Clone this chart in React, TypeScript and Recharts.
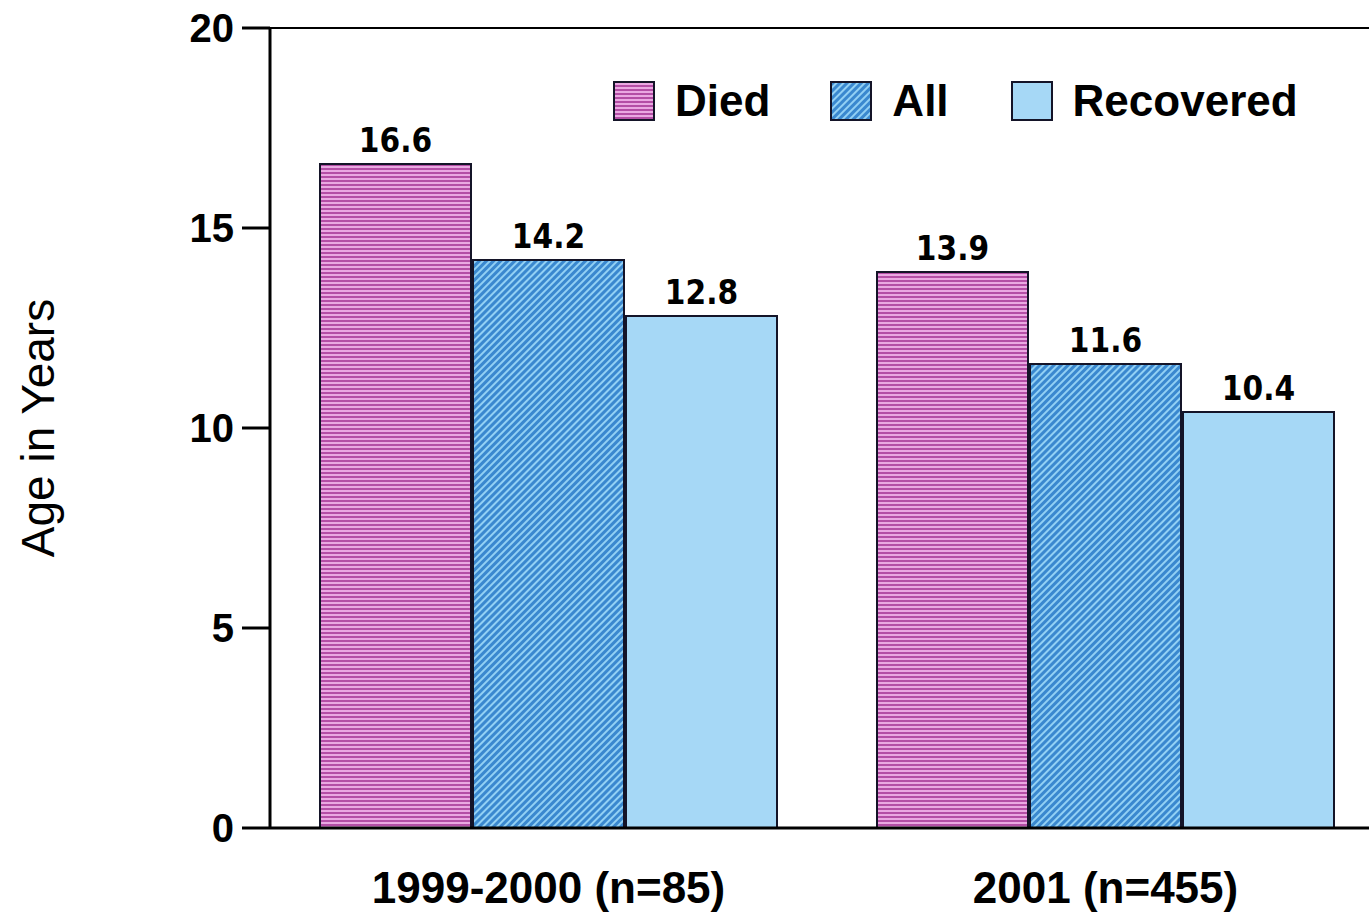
import React from 'react';
import { BarChart, Bar, XAxis, YAxis, Legend, LabelList, Label, ReferenceLine } from 'recharts';

const categories = ['1999-2000 (n=85)', '2001 (n=455)'];
const died = [16.6, 13.9];
const all = [14.2, 11.6];
const recovered = [12.8, 10.4];
const yTicks = [0, 5, 10, 15, 20];

const series = [
  { key: 'died', name: 'Died', fill: 'url(#diedPattern)' },
  { key: 'all', name: 'All', fill: 'url(#allPattern)' },
  { key: 'recovered', name: 'Recovered', fill: '#a6d8f6' },
];

const data = categories.map((c, i) => ({
  name: c,
  died: died[i],
  all: all[i],
  recovered: recovered[i],
}));

const FONT = '"Liberation Sans", Arial, sans-serif';
const OUTLINE = '#141428';

function LegendBox() {
  return (
    <div style={{ display: 'flex', alignItems: 'center', fontFamily: FONT, fontSize: 44, fontWeight: 'bold', color: '#000' }}>
      {series.map((s, i) => (
        <div key={s.key} style={{ display: 'flex', alignItems: 'center', marginRight: i === 0 ? 60 : i === 1 ? 62 : 0 }}>
          <svg width={42} height={40} style={{ marginRight: 20 }}>
            <rect x={1} y={1} width={40} height={38} fill={s.fill} stroke={OUTLINE} strokeWidth={2} />
          </svg>
          <span>{s.name}</span>
        </div>
      ))}
    </div>
  );
}

export default function App() {
  return (
    <div style={{ position: 'absolute', left: 0, top: 0, width: 1369, height: 916, overflow: 'hidden', background: '#fff' }}>
      <svg width={0} height={0} style={{ position: 'absolute' }}>
        <defs>
          <pattern id="diedPattern" patternUnits="userSpaceOnUse" width={4} height={4}>
            <rect x={0} y={0} width={4} height={4} fill="#eaa8e2" />
            <rect x={0} y={0} width={4} height={2} fill="#b44ea6" />
          </pattern>
          <pattern id="allPattern" patternUnits="userSpaceOnUse" width={5} height={5} patternTransform="rotate(45)">
            <rect x={0} y={0} width={5} height={5} fill="#3a88cf" />
            <rect x={0} y={0} width={2} height={5} fill="#92d0f4" />
          </pattern>
        </defs>
      </svg>
      <BarChart
        width={1400}
        height={916}
        data={data}
        margin={{ top: 28, right: 16, bottom: 0, left: 0 }}
        barCategoryGap={50}
        barGap={2}
      >
        <XAxis
          dataKey="name"
          height={88}
          tickLine={false}
          tickSize={0}
          tickMargin={44}
          axisLine={{ stroke: '#000', strokeWidth: 3 }}
          tick={{ fill: '#000', fontSize: 44, fontWeight: 'bold', fontFamily: FONT }}
        />
        <YAxis
          width={270}
          domain={[0, 20]}
          ticks={yTicks}
          interval={0}
          tickSize={28}
          tickMargin={8}
          axisLine={{ stroke: '#000', strokeWidth: 3 }}
          tickLine={{ stroke: '#000', strokeWidth: 3 }}
          tick={{ fill: '#000', fontSize: 40, fontWeight: 'bold', fontFamily: FONT }}
        >
          <Label
            content={(props: any) => {
              const vb = props.viewBox || { x: 0, y: 28, width: 270, height: 800 };
              const cx = 38;
              const cy = vb.y + vb.height / 2;
              return (
                <text
                  x={cx}
                  y={cy}
                  transform={`rotate(-90 ${cx} ${cy})`}
                  textAnchor="middle"
                  dominantBaseline="central"
                  fontFamily={FONT}
                  fontSize={46}
                  fill="#000"
                >
                  Age in Years
                </text>
              );
            }}
          />
        </YAxis>
        <ReferenceLine y={20} stroke="#000" strokeWidth={2} />
        <Legend
          layout="vertical"
          align="center"
          verticalAlign="middle"
          wrapperStyle={{ top: 76, left: 613, width: 'auto', height: 'auto' }}
          content={() => <LegendBox />}
        />
        {series.map((s) => (
          <Bar
            key={s.key}
            dataKey={s.key}
            name={s.name}
            fill={s.fill}
            stroke={OUTLINE}
            strokeWidth={2}
            isAnimationActive={false}
          >
            <LabelList
              dataKey={s.key}
              position="top"
              offset={12}
              formatter={(v: any) => Number(v).toFixed(1)}
              style={{ fill: '#000', fontSize: 33, fontWeight: 'bold', fontFamily: '"DejaVu Sans Condensed", "DejaVu Sans", sans-serif' }}
            />
          </Bar>
        ))}
      </BarChart>
    </div>
  );
}
